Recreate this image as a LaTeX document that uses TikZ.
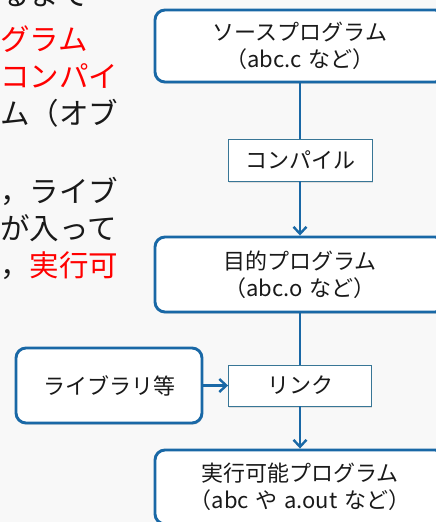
\documentclass[tikz,border=0pt]{standalone}
\usepackage{fontspec}
\setmainfont{Noto Sans CJK JP}
\usetikzlibrary{arrows.meta,shadows}
\definecolor{bg}{RGB}{248,248,248}
\definecolor{boxblue}{RGB}{25,104,166}
\definecolor{thinblue}{RGB}{56,118,150}
\definecolor{txtred}{RGB}{255,0,0}
\definecolor{txtblack}{RGB}{25,25,25}
\begin{document}
\begin{tikzpicture}[x=1pt,y=-1pt,
  prog/.style={draw=boxblue, line width=2.9pt, fill=white, rounded corners=10pt,
    align=center, text=txtblack, font=\fontsize{22}{27}\selectfont, inner sep=0pt,
    drop shadow={opacity=0.22, shadow xshift=0.8pt, shadow yshift=-1.8pt}},
  proc/.style={draw=thinblue, line width=0.9pt, fill=white, text=txtblack,
    font=\fontsize{22}{27}\selectfont, minimum width=144pt, minimum height=42pt, inner sep=0pt,
    drop shadow={opacity=0.22, shadow xshift=0.8pt, shadow yshift=-1.5pt}},
  conn/.style={draw=boxblue, line width=2.4pt},
  tip/.style={-{Straight Barb[length=7pt,width=13pt]}},
  lt/.style={anchor=base west, inner sep=0pt, text=txtblack, font=\fontsize{29.5}{35}\selectfont},
  ltred/.style={lt, text=txtred}]
\useasboundingbox (0,0) rectangle (436,522);
\clip (0,0) rectangle (436,522);
\fill[bg] (0,0) rectangle (436,522);

% left text (cut off by the picture's edge)
\node[lt] (t1) at (0,5.6) {るまで};
\node[ltred] (t2) at (0,50.6) {グラム};
\node[ltred] (t3) at (0,87.6) {コンパイ};
\node[lt] (t4) at (0,124.6) {ム（オブ};
\node[lt] (t5) at (0,202.6) {，ライブ};
\node[lt] (t6) at (0,239.6) {が入って};
\node[lt] (t7) at (0,276.6) {，\textcolor{txtred}{実行可}};

% flowchart
\node[prog, minimum width=290pt, minimum height=72pt] (src) at (300,46) {ソースプログラム\\（abc.c\hspace{0.3em}など）};
\node[proc] (comp) at (300,160) {コンパイル};
\node[prog, minimum width=290pt, minimum height=75pt] (obj) at (300,274.5) {目的プログラム\\（abc.o\hspace{0.3em}など）};
\node[proc, minimum width=143pt, minimum height=41pt] (link) at (300,385.5) {リンク};
\node[prog, minimum width=186pt, minimum height=75pt] (lib) at (109,385.5) {ライブラリ等};
\node[prog, minimum width=290pt, minimum height=74pt] (exe) at (300,487) {実行可能プログラム\\（abc\hspace{0.3em}や\hspace{0.3em}a.out\hspace{0.3em}など）};

\draw[conn] (src) -- (comp);
\draw[conn,tip] (comp) -- (obj);
\draw[conn] (obj) -- (link);
\draw[conn,tip] (link) -- (exe);
\draw[conn,tip] (lib) -- (link);
\end{tikzpicture}
\end{document}
